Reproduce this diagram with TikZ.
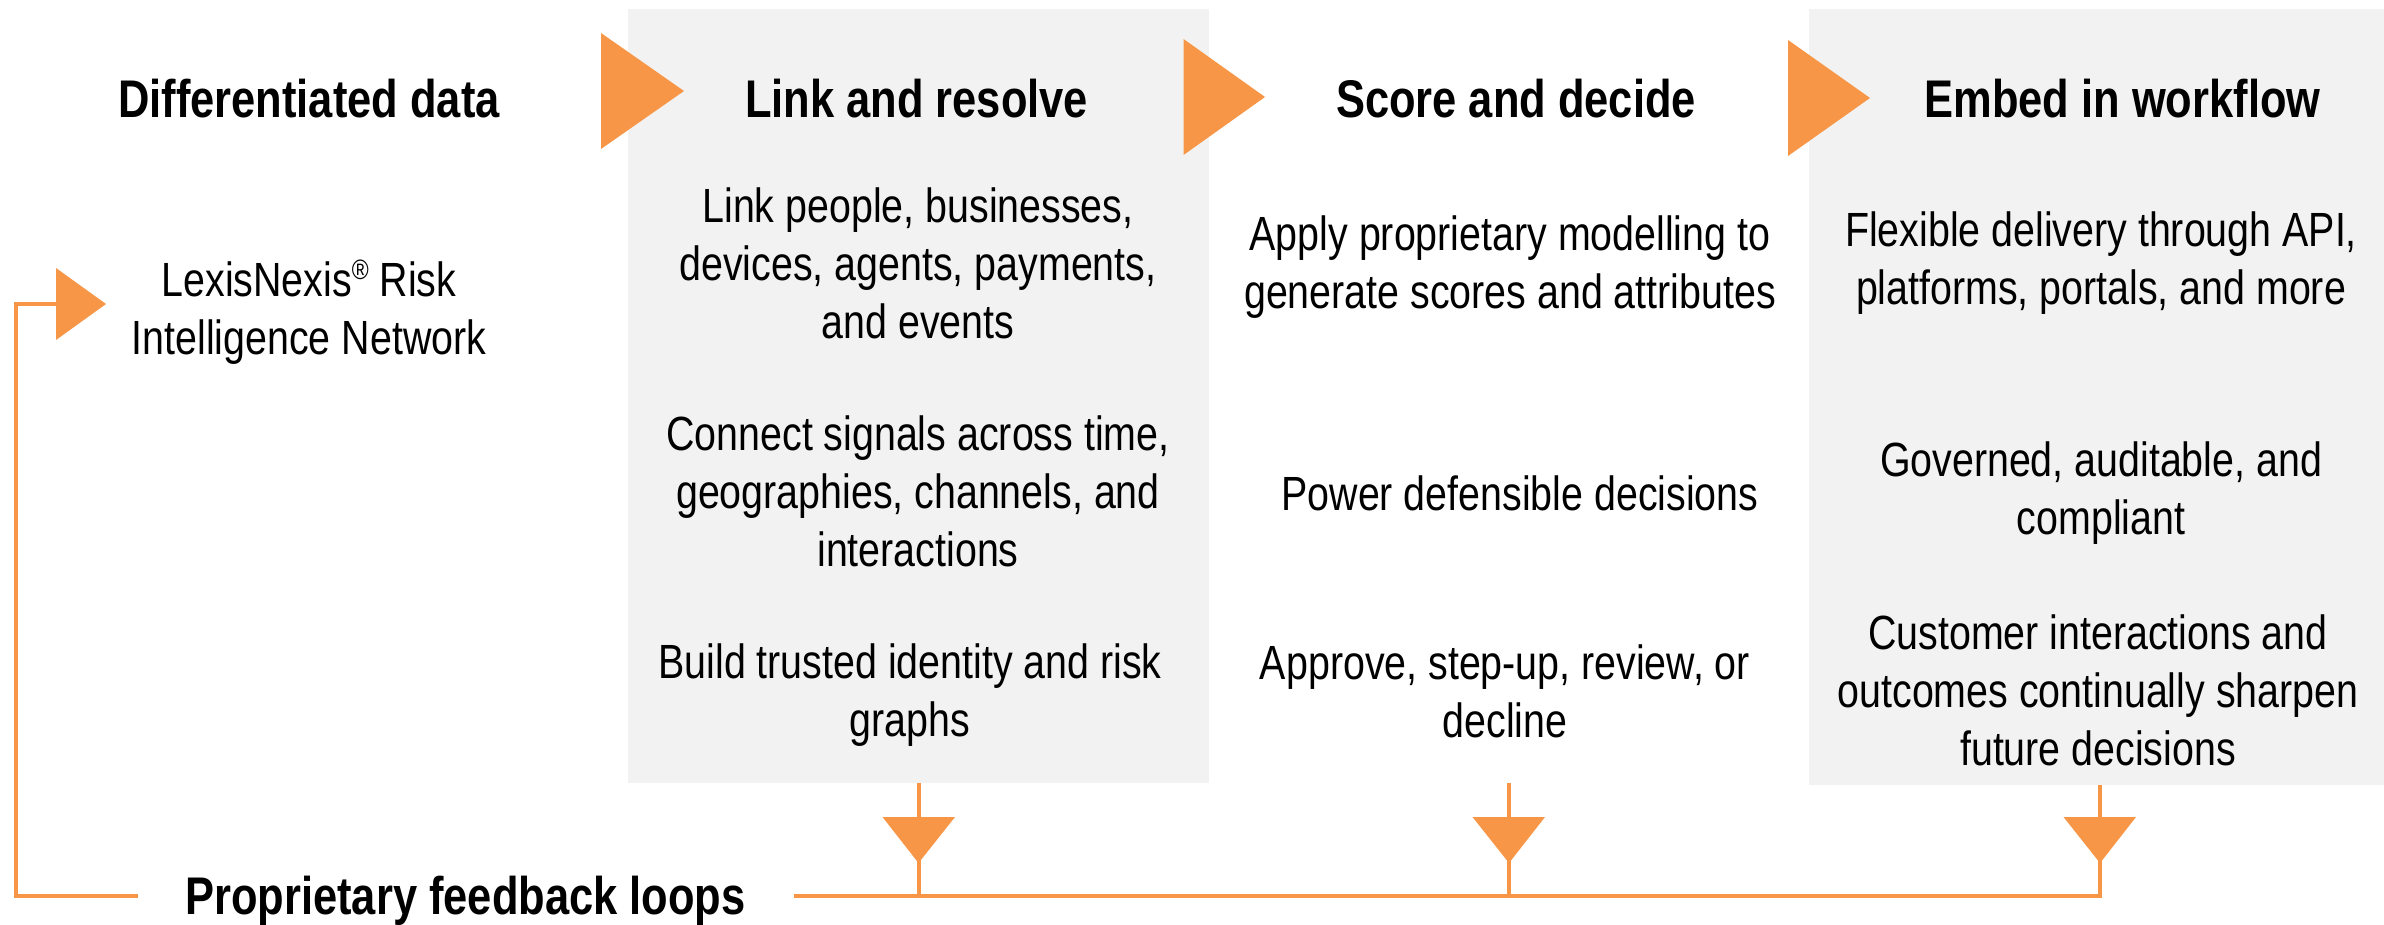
\documentclass[tikz,border=0pt]{standalone}
\usepackage{fontspec}
\setmainfont{Liberation Sans}[FakeStretch=0.82]
\definecolor{orng}{HTML}{F79646}
\definecolor{boxgray}{HTML}{F2F2F2}
\tikzset{
  head/.style={font=\fontsize{53}{64}\selectfont\bfseries, inner sep=0pt, anchor=base},
  body/.style={font=\fontsize{48}{58}\selectfont, align=center, inner sep=0pt},
  graybox/.style={fill=boxgray, draw=none, inner sep=0pt},
  tri/.style={fill=orng, draw=none},
  fbline/.style={draw=orng, line width=4pt},
}
\begin{document}
\begin{tikzpicture}[x=1pt,y=-1pt]
\useasboundingbox (0,0) rectangle (2384,925);
\fill[white] (0,0) rectangle (2384,925);
% gray boxes
\node[graybox, minimum width=581pt, minimum height=774pt] (box1) at (918.5,396) {};
\node[graybox, minimum width=575pt, minimum height=776pt] (box2) at (2096.5,397) {};
% headers
\node[head] (h0) at (309,118) {Differentiated data};
\node[head] (h1) at (916.5,118) {Link and resolve};
\node[head] (h2) at (1516,118) {Score and decide};
\node[head] (h3) at (2122.5,118) {Embed in workflow};
% right-pointing triangles
\fill[tri] (601,33) -- (684,91) -- (601,149) -- cycle;
\fill[tri] (1183.5,39) -- (1265,97) -- (1183.5,155) -- cycle;
\fill[tri] (1788,40) -- (1870,98) -- (1788,156) -- cycle;
% column 0
\node[body] (n0) at (309,312) {LexisNexis\raisebox{0.36em}{\fontsize{28}{28}\selectfont ®} Risk\\Intelligence Network};
% column 1
\node[body] (a1) at (918,263) {Link people, businesses,\\devices, agents, payments,\\and events};
\node[body] (b1) at (918,491) {Connect signals across time,\\geographies, channels, and\\interactions};
\node[body] (c1) at (910,695) {Build trusted identity and risk\\graphs};
% column 2
\node[body] (a2) at (1510,267) {Apply proprietary modelling to\\generate scores and attributes};
\node[body] (b2) at (1520,493) {Power defensible decisions};
\node[body] (c2) at (1505,691) {Approve, step-up, review, or\\decline};
% column 3
\node[body] (a3) at (2101,263) {Flexible delivery through API,\\platforms, portals, and more};
\node[body] (b3) at (2101,493) {Governed, auditable, and\\compliant};
\node[body] (c3) at (2098,690) {Customer interactions and\\outcomes continually sharpen\\future decisions};
% feedback label
\node[head] (fb) at (465.5,914) {Proprietary feedback loops};
% connector coordinates
\coordinate (d1) at (918.5,783);
\coordinate (d2) at (1509,783);
\coordinate (d3) at (2100,785);
\coordinate (j1) at (918.5,896);
\coordinate (j2) at (1509,896);
\coordinate (j3) at (2100,896);
\coordinate (gr) at (794,896);
\coordinate (gl) at (138,896);
\coordinate (cl) at (15.5,896);
\coordinate (cu) at (15.5,304);
\coordinate (lp) at (58,304);
% feedback lines
\draw[fbline] (d1) -- (j1);
\draw[fbline] (d2) -- (j2);
\draw[fbline] (d3) -- (j3) -- (gr);
\draw[fbline] (gl) -- (cl) -- (cu) -- (lp);
% down triangles
\fill[tri] (882.5,817) -- (955,817) -- (918.5,863) -- cycle;
\fill[tri] (1472.5,817) -- (1545,817) -- (1509,863) -- cycle;
\fill[tri] (2063.5,817) -- (2136,817) -- (2100,863) -- cycle;
% loop triangle
\fill[tri] (56,268) -- (106,304) -- (56,340) -- cycle;
\end{tikzpicture}
\end{document}
